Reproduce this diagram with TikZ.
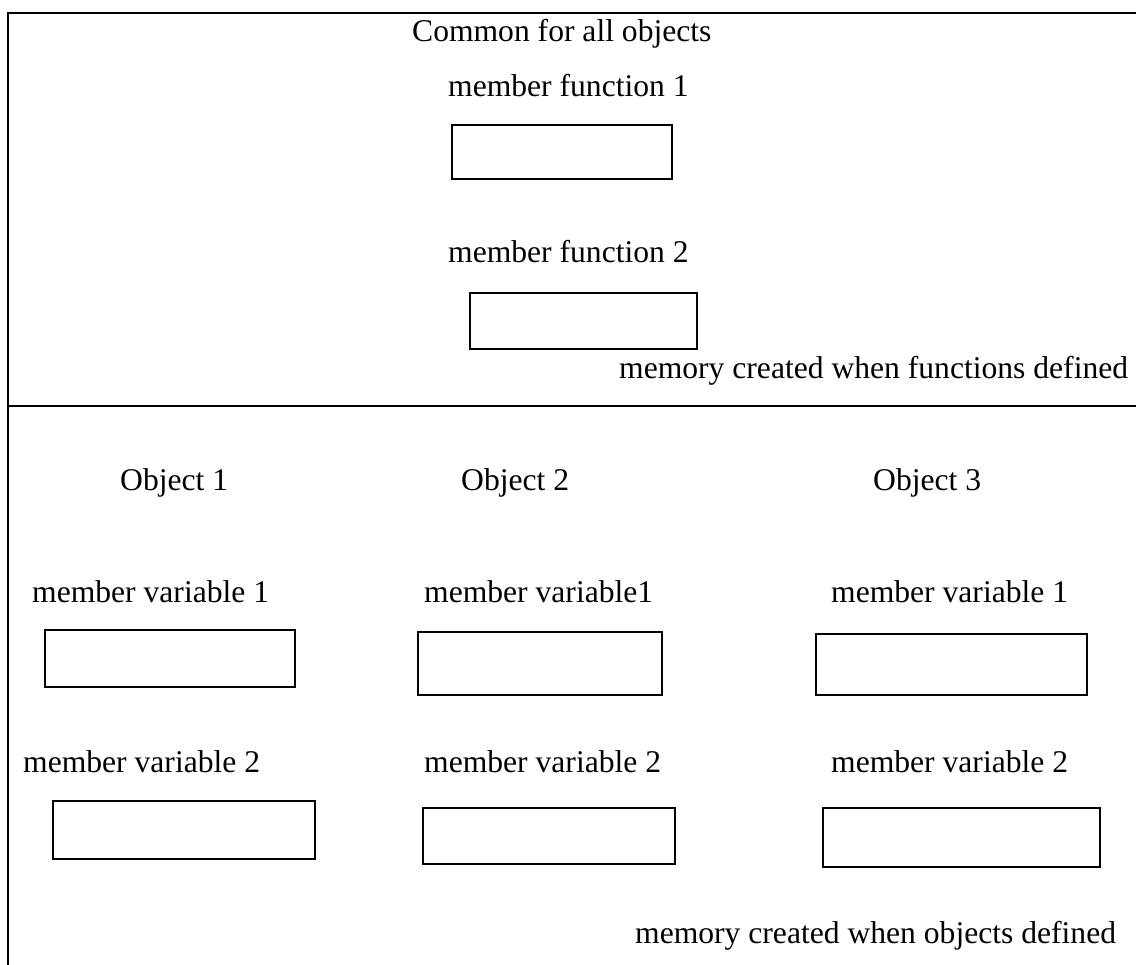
\documentclass[tikz,border=0pt]{standalone}
\usepackage{fontspec}
\setmainfont{Liberation Serif}
\tikzset{
  lbl/.style={inner sep=0pt, anchor=base west, font=\fontsize{31.6}{36}\selectfont},
  cell/.style={draw, line width=1.6pt, inner sep=0pt},
  thickcell/.style={cell, line width=2pt},
  frame/.style={line width=1.8pt}
}
\begin{document}
\begin{tikzpicture}[x=1pt, y=-1pt]
  \useasboundingbox (0,0) rectangle (1136,965);

  % outer frame and divider
  \coordinate (tr) at (1136,13);
  \coordinate (tl) at (8,13);
  \coordinate (bl) at (8,965);
  \coordinate (ml) at (8,406);
  \coordinate (mr) at (1136,406);
  \draw[frame] (tr) -- (tl) -- (bl);
  \draw[frame] (ml) -- (mr);

  % shared member functions
  \node[lbl] (common) at (412,42) {Common for all objects};
  \node[lbl] (mf1lbl) at (448,97) {member function 1};
  \node[cell, minimum width=220pt, minimum height=54pt] (mf1) at (562,152) {};
  \node[lbl] (mf2lbl) at (448,263) {member function 2};
  \node[cell, minimum width=227pt, minimum height=56pt] (mf2) at (583.5,321) {};
  \node[lbl] (fnote) at (619,379) {memory created when functions defined};

  % objects
  \node[lbl] (o1) at (120,491) {Object 1};
  \node[lbl] (o2) at (461,491) {Object 2};
  \node[lbl] (o3) at (873,491) {Object 3};

  \node[lbl] (o1v1lbl) at (32,602) {member variable 1};
  \node[lbl] (o2v1lbl) at (424,602) {member variable1};
  \node[lbl] (o3v1lbl) at (831,602) {member variable 1};

  \node[cell, minimum width=250pt, minimum height=57pt] (o1v1) at (170,658.5) {};
  \node[thickcell, minimum width=244pt, minimum height=63pt] (o2v1) at (540,663.5) {};
  \node[thickcell, minimum width=271pt, minimum height=61pt] (o3v1) at (951.5,664.5) {};

  \node[lbl] (o1v2lbl) at (23,772) {member variable 2};
  \node[lbl] (o2v2lbl) at (424,772) {member variable 2};
  \node[lbl] (o3v2lbl) at (831,772) {member variable 2};

  \node[cell, minimum width=262pt, minimum height=58pt] (o1v2) at (184,830) {};
  \node[thickcell, minimum width=252pt, minimum height=56pt] (o2v2) at (549,836) {};
  \node[thickcell, minimum width=277pt, minimum height=59pt] (o3v2) at (961.5,837.5) {};

  \node[lbl] (onote) at (635,943) {memory created when objects defined};
\end{tikzpicture}
\end{document}
